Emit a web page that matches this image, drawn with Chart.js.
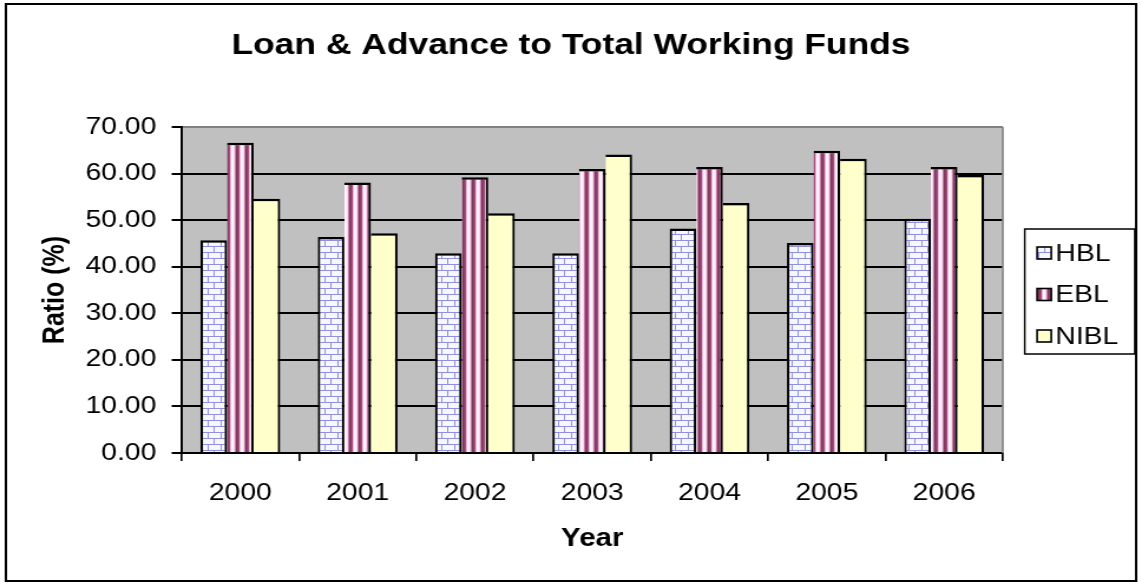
<!DOCTYPE html>
<html>
<head>
<meta charset="utf-8">
<title>Loan &amp; Advance to Total Working Funds</title>
<script src="https://cdn.jsdelivr.net/npm/chart.js@4.4.1/dist/chart.umd.min.js"></script>
<style>
  html, body { margin: 0; padding: 0; background: #fff; }
  #chart { display: block; }
</style>
</head>
<body>
<!-- bitmap is 968 wide and stretched to 1142 so the lettering comes out wide -->
<canvas id="chart" width="968" height="583" style="width:1142px;height:583px"></canvas>
<script>
// Ratio of loan & advance to total working funds, in percent
const years = ['2000', '2001', '2002', '2003', '2004', '2005', '2006'];
const hbl = [45.7, 46.4, 42.9, 42.9, 48.2, 45.1, 50.3];
const ebl = [66.6, 58.1, 59.2, 61.0, 61.4, 64.9, 61.4];
const nibl = [54.6, 47.2, 51.5, 64.1, 53.7, 63.2, 59.7];
const yTickValues = [0, 10, 20, 30, 40, 50, 60, 70];

const FONT = '"Liberation Sans", Arial, Helvetica, sans-serif';
Chart.defaults.font.family = FONT;
Chart.defaults.color = '#000';

const canvas = document.getElementById('chart');
const ctx = canvas.getContext('2d');

// Horizontal brick fill for HBL
function brickPattern(target) {
    const c = document.createElement('canvas');
    c.width = 11;
    c.height = 12;
    const p = c.getContext('2d');
    p.fillStyle = '#f7f7ff';
    p.fillRect(0, 0, 11, 12);
    p.fillStyle = '#9090e0';
    p.fillRect(0, 0, 11, 1);
    p.fillRect(0, 6, 11, 1);
    p.fillRect(0, 0, 1, 6);
    p.fillRect(5, 6, 1, 6);
    return target.createPattern(c, 'repeat');
}

// Vertical maroon / pink stripes for EBL
function stripePattern(target) {
    const cols = ['#7e3a5e', '#8a4066', '#a24e7a', '#eab8da', '#fff2ff', '#fff0fc', '#f6d8ee', '#c47aa6'];
    const c = document.createElement('canvas');
    c.width = cols.length;
    c.height = 1;
    const p = c.getContext('2d');
    cols.forEach((col, i) => {
        p.fillStyle = col;
        p.fillRect(i, 0, 1, 1);
    });
    return target.createPattern(c, 'repeat');
}

const fills = [brickPattern(ctx), stripePattern(ctx), '#ffffcc'];

// Grey plot area, white page, frame round the whole chart
const plotBackground = {
    id: 'plotBackground',
    beforeDraw(chart) {
        const { ctx, chartArea: a, width, height } = chart;
        ctx.save();
        ctx.fillStyle = '#fff';
        ctx.fillRect(0, 0, width, height);
        ctx.fillStyle = '#c0c0c0';
        ctx.fillRect(a.left, a.top, a.width, a.height);
        ctx.restore();
    },
    afterDraw(chart) {
        const { ctx, chartArea: a, width, height } = chart;
        ctx.save();
        ctx.strokeStyle = '#808080';
        ctx.lineWidth = 1.6;
        ctx.beginPath();
        ctx.moveTo(a.right, a.top);
        ctx.lineTo(a.right, a.bottom);
        ctx.stroke();
        ctx.strokeStyle = '#000';
        ctx.lineWidth = 2;
        ctx.strokeRect(5, 4, width - 10, height - 6);
        ctx.restore();
    }
};

// Framed legend, registered as a layout box on the right of the plot
const boxLegend = {
    id: 'boxLegend',
    beforeInit(chart) {
        const opts = chart.options.plugins.boxLegend;
        const item = {
            position: 'right',
            weight: 1000,
            fullSize: false,
            options: {},
            top: 0, left: 0, right: 0, bottom: 0, width: 0, height: 0,
            isHorizontal() {
                return false;
            },
            update(maxWidth, maxHeight) {
                this.width = opts.boxWidth;
                this.height = maxHeight;
            },
            getPadding() {
                return { top: 0, left: 0, right: 0, bottom: 0 };
            },
            draw() {
                const c = chart.ctx;
                const a = chart.chartArea;
                const left = this.left + opts.frameOffset;
                const top = (a.top + a.bottom) / 2 - opts.frameHeight / 2 + opts.frameShift;
                c.save();
                c.lineWidth = 1.5;
                c.strokeStyle = '#000';
                c.strokeRect(left, top, opts.frameWidth, opts.frameHeight);
                c.font = opts.fontSize + 'px ' + FONT;
                c.textBaseline = 'middle';
                c.textAlign = 'left';
                chart.data.datasets.forEach((ds, i) => {
                    const y = top + opts.firstRow + i * opts.rowGap;
                    const sx = left + opts.swatchOffset;
                    c.fillStyle = ds.backgroundColor;
                    c.fillRect(sx, y - opts.swatch / 2, opts.swatch, opts.swatch);
                    c.lineWidth = 1.6;
                    c.strokeRect(sx, y - opts.swatch / 2, opts.swatch, opts.swatch);
                    c.fillStyle = '#000';
                    c.fillText(ds.label, left + opts.textOffset, y + 1);
                });
                c.restore();
            }
        };
        Chart.layouts.addBox(chart, item);
    }
};

const seriesNames = ['HBL', 'EBL', 'NIBL'];
const seriesData = [hbl, ebl, nibl];
const sideBorders = [
    { top: 2.5, left: 2.1, right: 2.1, bottom: 0 },
    { top: 2.5, left: 0, right: 2.1, bottom: 0 },
    { top: 2.5, left: 0, right: 2.1, bottom: 0 }
];

new Chart(canvas, {
    type: 'bar',
    data: {
        labels: years,
        datasets: seriesNames.map((name, i) => ({
            label: name,
            data: seriesData[i],
            backgroundColor: fills[i],
            borderColor: '#000',
            borderWidth: sideBorders[i],
            categoryPercentage: 0.68,
            barPercentage: 1.0
        }))
    },
    options: {
        responsive: false,
        animation: false,
        events: [],
        layout: { padding: 0 },
        plugins: {
            legend: { display: false },
            tooltip: { enabled: false },
            title: {
                display: true,
                text: 'Loan & Advance to Total Working Funds',
                color: '#000',
                font: { size: 30, weight: 'bold' },
                padding: { top: 28, bottom: 63 }
            },
            boxLegend: {
                boxWidth: 118,
                frameOffset: 18.6,
                frameWidth: 93.3,
                frameHeight: 125,
                frameShift: 1.5,
                firstRow: 24,
                rowGap: 41.5,
                swatch: 12,
                swatchOffset: 10.5,
                textOffset: 26,
                fontSize: 24
            }
        },
        scales: {
            x: {
                offset: true,
                grid: {
                    offset: true,
                    drawOnChartArea: false,
                    drawTicks: true,
                    tickLength: 8,
                    color: '#000',
                    lineWidth: 1.7
                },
                border: { color: '#000', width: 2 },
                ticks: { color: '#000', font: { size: 24 }, padding: 18, maxRotation: 0 },
                title: {
                    display: true,
                    text: 'Year',
                    color: '#000',
                    font: { size: 25, weight: 'bold' },
                    padding: { top: 0, bottom: 29 }
                },
                afterFit(scale) { scale.height = 130; }
            },
            y: {
                min: yTickValues[0],
                max: yTickValues[yTickValues.length - 1],
                afterBuildTicks(scale) {
                    scale.ticks = yTickValues.map(v => ({ value: v }));
                },
                grid: {
                    color: c => (c.tick && c.tick.value === 70 ? '#808080' : '#000'),
                    lineWidth: 2,
                    tickLength: 8.5,
                    tickColor: '#000'
                },
                border: { color: '#000', width: 2 },
                ticks: {
                    color: '#000',
                    padding: 13,
                    font: { size: 24 },
                    callback: v => Number(v).toFixed(2)
                },
                title: {
                    display: true,
                    text: 'Ratio (%)',
                    color: '#000',
                    font: { size: 25, weight: 'bold' },
                    padding: { top: 32, bottom: 0 }
                },
                afterFit(scale) { scale.width = 154; }
            }
        }
    },
    plugins: [plotBackground, boxLegend]
});
</script>
</body>
</html>
